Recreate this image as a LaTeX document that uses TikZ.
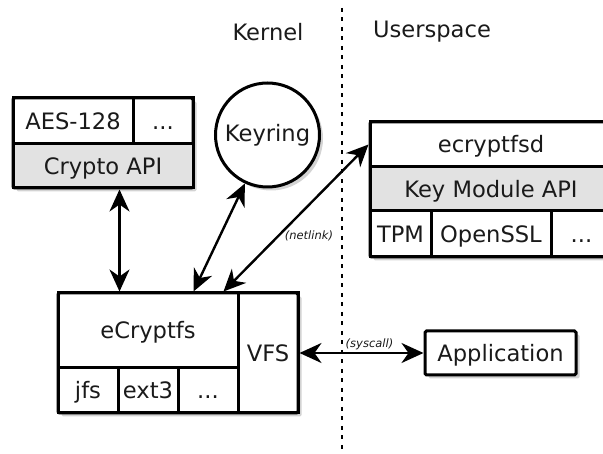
\documentclass[tikz,border=0pt]{standalone}
\usepackage{fontspec}
\setmainfont{DejaVu Sans}
\usetikzlibrary{arrows.meta,shadows,calc}
\definecolor{apigray}{HTML}{E2E2E2}
\definecolor{inkgray}{HTML}{1A1A1A}
\tikzset{
  cell/.style={draw=black, line width=3pt, inner sep=0pt, text=inkgray,
    font=\fontsize{22.6}{26}\selectfont, text height=16.5pt, text depth=0pt},
  api/.style={cell, fill=apigray},
  boxshadow/.style={drop shadow={shadow xshift=3.5pt, shadow yshift=-3.5pt, opacity=0.35}},
  frame/.style={draw=black, line width=3pt, rounded corners=1.5pt, fill=white, inner sep=0pt,
    boxshadow},
  bighead/.tip={Stealth[length=22pt,width=20pt,inset=7pt]},
  link/.style={line width=2.4pt, bighead-bighead},
  tag/.style={font=\fontsize{11.5}{13}\selectfont\itshape, text=inkgray, inner sep=1pt},
  side/.style={font=\fontsize{22.6}{26}\selectfont, text=inkgray}
}
\begin{document}
\begin{tikzpicture}[x=1pt,y=-1pt]
\useasboundingbox (0,0) rectangle (603,454);

% kernel / userspace boundary
\coordinate (bndtop) at (342,8);
\coordinate (bndbot) at (342,454);
\draw[line width=2.8pt, dash pattern=on 4pt off 5.5pt] (bndtop) -- (bndbot);
\node[side] (kernel) at (268,32) {Kernel};
\node[side] (user) at (432,32) {Userspace};

% crypto API stack
\node[frame, minimum width=180pt, minimum height=90pt] (crypto) at (103,143) {};
\node[cell, minimum width=120pt, minimum height=46pt] (aes) at (73,121) {AES-128};
\node[cell, minimum width=60pt, minimum height=46pt] (cdotsa) at (163,121) {...};
\node[api, minimum width=180pt, minimum height=44pt] (capi) at (103,166) {Crypto API};

% keyring
\node[circle, draw=black, line width=3pt, fill=white, minimum size=104pt, inner sep=0pt,
  text=inkgray, font=\fontsize{22.6}{26}\selectfont, boxshadow] (keyring) at (267.5,135) {Keyring};

% userspace daemon
\node[frame, minimum width=242pt, minimum height=135pt] (daemon) at (491,189.5) {};
\node[cell, minimum width=242pt, minimum height=45pt] (ecd) at (491,144.5) {ecryptfsd};
\node[api, minimum width=242pt, minimum height=44pt] (kmapi) at (491,189) {Key Module API};
\node[cell, minimum width=61pt, minimum height=46pt] (tpm) at (400.5,234) {TPM};
\node[cell, minimum width=120pt, minimum height=46pt] (openssl) at (491,234) {OpenSSL};
\node[cell, minimum width=61pt, minimum height=46pt] (cdotsb) at (581.5,234) {...};

% eCryptfs stack
\node[frame, minimum width=240pt, minimum height=120pt] (fsstack) at (178,353) {};
\node[cell, minimum width=180pt, minimum height=75pt] (ecf) at (148,330.5) {eCryptfs};
\node[cell, minimum width=60pt, minimum height=45pt] (jfs) at (88,390.5) {jfs};
\node[cell, minimum width=60pt, minimum height=45pt] (ext) at (148,390.5) {ext3};
\node[cell, minimum width=60pt, minimum height=45pt] (cdotsc) at (208,390.5) {...};
\node[cell, minimum width=60pt, minimum height=120pt] (vfs) at (268,353) {VFS};

% application
\node[frame, text=inkgray, font=\fontsize{22.6}{26}\selectfont, text height=16.5pt, text depth=0pt,
  minimum width=151pt, minimum height=44pt] (app) at (500.5,353) {Application};

% connections
\draw[link] (capi.south -| jfs.east) -- (ecf.north -| jfs.east);
\draw[link] ([xshift=137pt]ecf.north west) -- (keyring.245);
\draw[link] ([xshift=167pt]ecf.north west) --
  node[tag, pos=0.38, anchor=west, xshift=4pt] {(netlink)} (ecd.west);
\draw[link] (vfs.east) --
  node[tag, above, xshift=8pt, yshift=1pt] {(syscall)} (app.west);
\end{tikzpicture}
\end{document}
